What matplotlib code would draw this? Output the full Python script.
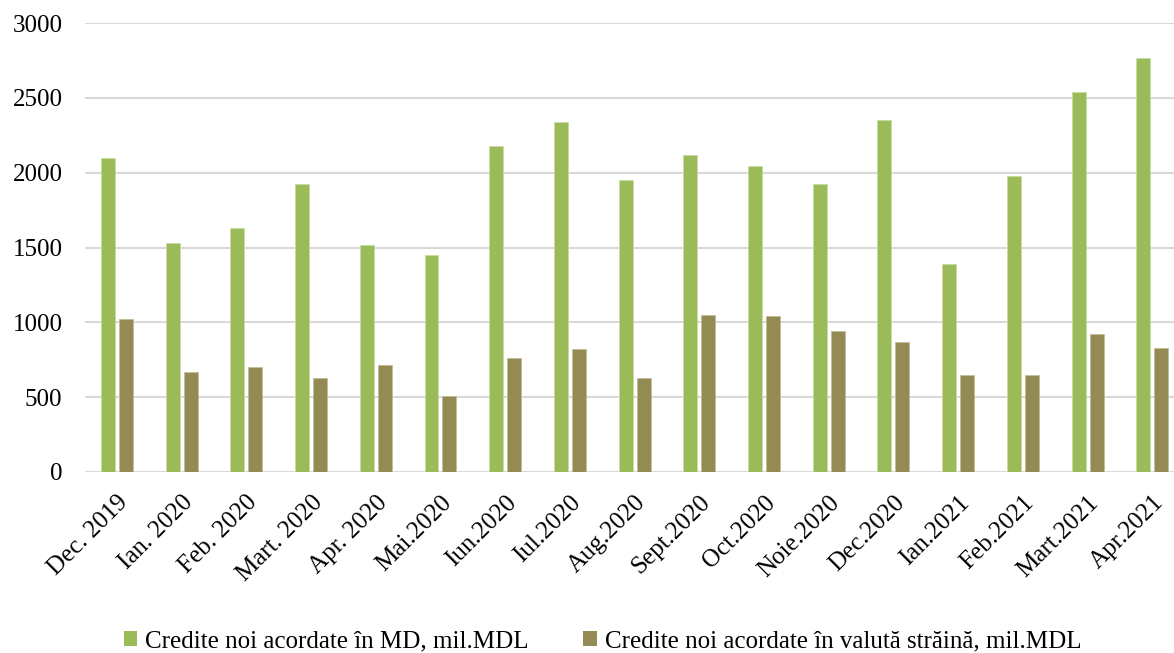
import numpy as np
from matplotlib import pyplot as plt
from matplotlib.patches import Patch

luni = ["Dec. 2019", "Ian. 2020", "Feb. 2020", "Mart. 2020", "Apr. 2020", "Mai.2020",
        "Iun.2020", "Iul.2020", "Aug.2020", "Sept.2020", "Oct.2020", "Noie.2020",
        "Dec.2020", "Ian.2021", "Feb.2021", "Mart.2021", "Apr.2021"]
credite_md = [2100, 1530, 1630, 1925, 1515, 1450, 2180, 2340, 1950, 2120, 2045, 1925,
              2355, 1390, 1980, 2540, 2765]
credite_valuta = [1020, 670, 700, 630, 715, 505, 765, 820, 630, 1050, 1045, 940,
                  870, 650, 650, 920, 830]
eticheta_md = "Credite noi acordate în MD, mil.MDL"
eticheta_valuta = "Credite noi acordate în valută străină, mil.MDL"

verde = "#9BBB59"
oliv = "#948A54"

plt.rcParams['font.family'] = ['Liberation Serif', 'DejaVu Serif']

fig = plt.figure(figsize=(11.74, 6.53), dpi=100)
ax = fig.add_axes([84.6 / 1174, 181 / 653, 1100 / 1174, 449 / 653])

x = np.arange(len(luni))
w = 0.216
ax.bar(x - 0.139, credite_md, width=w, color=verde, edgecolor="#C9DBA3", linewidth=0.6, zorder=3)
ax.bar(x + 0.139, credite_valuta, width=w, color=oliv, edgecolor="#C4BC98", linewidth=0.6, zorder=3)

ax.set_xlim(-0.5, len(luni) - 0.5)
ax.set_ylim(0, 3000)
ax.set_yticks(range(0, 3001, 500))
ax.yaxis.grid(True, color="#D9D9D9", linewidth=1.5, zorder=0)
ax.set_axisbelow(True)
for s in ax.spines.values():
    s.set_visible(False)
ax.tick_params(axis="both", length=0, labelsize=18, colors="black")
ax.tick_params(axis="y", pad=16)
ax.tick_params(axis="x", pad=14)
ax.set_xticks(x)
ax.set_xticklabels(luni, rotation=45, ha="right", rotation_mode="anchor", fontsize=18)

handles = [Patch(facecolor=verde), Patch(facecolor=oliv)]
fig.legend(handles, [eticheta_md, eticheta_valuta], loc="center", ncol=2,
           bbox_to_anchor=(0.513, 0.018), frameon=False, fontsize=18,
           handlelength=0.55, handleheight=0.55, handletextpad=0.3, columnspacing=2.2)

plt.savefig("out.png", dpi=100)
plt.close()
